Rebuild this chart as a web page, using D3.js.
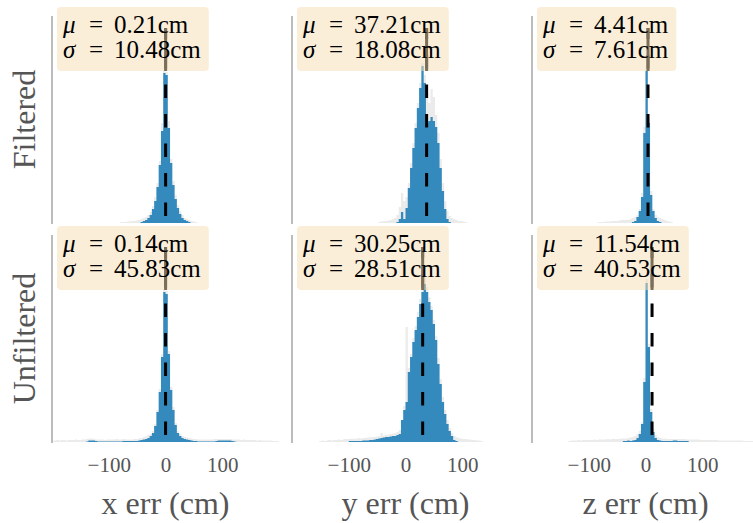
<!DOCTYPE html>
<html><head><meta charset="utf-8">
<script src="https://cdn.jsdelivr.net/npm/d3@7"></script>
<style>body{margin:0;background:#fff} text{font-family:'Liberation Serif','DejaVu Serif',serif}</style>
</head><body>
<svg id="chart" width="753" height="523"></svg>
<script>
// ---------------- data ----------------
const rowLabels = ["Filtered", "Unfiltered"];
const colLabels = ["x err (cm)", "y err (cm)", "z err (cm)"];
const xTicks = [-100, 0, 100];
const xDomain = [-200, 200];
const binWidth = 4;          // cm per histogram bin
const yMax = 207;            // relative density (arbitrary units)

const means  = [[0.21, 37.21, 4.41], [0.14, 30.25, 11.54]];
const sigmas = [[10.48, 18.08, 7.61], [45.83, 28.51, 40.53]];

// first bin centre (cm) of every histogram
const grayStarts = [[-78, -46, -82], [-198, -150, -134]];
const blueStarts = [[-42, -18, -22], [-138, -98, -38]];

// Filtered
const xFiltGray = [1,1,1,1.5,1.5,2,2,2.5,3,4,5,6,8,11,17,26,40,62,100,153,151,102,64,42,28,18,12,8,5,4,3,2,1.5,1];
const xFiltBlue = [1,2,3,5,8,14,22,36,58,92,150,148,95,60,38,24,15,9,5,3,2,1];
const yFiltGray = [1,1.5,2,2,2.5,3,4,5,8,16,30,22,26,40,60,80,100,120,140,160,148,130,120,134,126,108,90,64,40,22,12,7,5,4,3,2,2,1.5,1];
const yFiltBlue = [0,1,4,11,4,15,35,55,75,95,115,135,157,140,100,102,106,102,96,80,55,32,14,4,1];
const zFiltGray = [1,1,1,1.5,1.5,1.5,2,2,2,2.5,3,3,3,3,4,5,6,8,14,30,96,156,104,32,14,8,6,5,4,3,2,1.5,1];
const zFiltBlue = [1,2,6,12,26,90,152,100,28,12,5,2,1];

// Unfiltered
const xRawGray = [1.5,1.5,2,1.5,2,2,1.5,2,2,2,2.5,2,2,2.5,2.5,
  3,3.5,3.5,3,2.5,
  2.5,2.5,2.5,2,2.5,2.5,2.5,2.5,3,2.5,2.5,3,2.5,2.5,2.5,2.5,3,3,3.5,
  4,5,5.5,7,8,11,18,32,53,88,153,151,91,55,35,19,11,8,6,5,4.5,4,
  3.5,3,3,2.5,2.5,2.5,2.5,2.5,2.5,2.5,3,
  3,3,3,3,3,3,3,2.5,2.5,
  2.5,2.5,2,2.5,2,2,2,2,2,1.5,2,1.5,1.5,1.5,1.5,1.5,1,1,1];
const xRawBlue = [0.5,1.5,1.5,1.5,1,
  0.5,0.5,0.5,0.5,0.5,0.5,0.5,0.5,0.5,0.5,0.5,
  1,1,1,1,1,1,1,1.5,
  2,2.5,3,4,6,9,16,30,50,85,150,148,88,52,32,17,9,6,4,3,2.5,2,
  1.5,1,1,0.5,0.5,0.5,0.5,0.5,0.5,0.5,0.5,
  1,1.5,1.5,1.5,1.5,1.5,1.5,1,0.5];
const yRawGray = [1,1.5,1,1.5,2,1.5,2,2,2.5,2,2.5,3,3,
  3,3.5,3,3.5,4,3.5,4,4,4.5,4.5,
  5,5,5.5,6,9,6.5,7,7.5,8,8.5,
  9,10,12,22,36,115,74,88,104,116,
  130,143,156,164,155,145,136,122,106,84,
  63,45,32,22,14,9,6,5,4,3.5,
  3,3,2.5,2.5,2,2,1.5,1.5,1];
const yRawBlue = [1,1,1,1,1,1,1.5,1.5,1.5,2,
  2,2.5,3,3.5,4,4.5,5,5,5.5,6,
  6,7,8,22,32,40,70,85,100,112,
  125,138,150,158,150,140,132,118,102,78,
  58,40,28,18,11,6,2,1];
const zRawGray = [1,1.5,1.5,1.5,2,1.5,2,2,2,2,
  2,2.5,2,2.5,2.5,2.5,2.5,3,2.5,3,
  3,3,3,3.5,3.5,3.5,4,4.5,5,6,
  8,11,20,64,163,98,33,13,7,5,
  4,3.5,3.5,3,3,3,3,3,3,3,
  3,3,2.5,2.5,2.5,2.5,2.5,2.5,2,2,
  2,2,2,2,2,2,1.5,1.5,1.5,1.5,
  1.5,1.5,1.5,1.5,1.5,1.5,1.5,1,1,1,1,1,1,1];
const zRawBlue = [1,1,1.5,1,1.5,2,4,8,18,60,
  159,95,30,10,4,2,1.5,1,1,1,
  1,1,1.5,1.5,1,1,1,1,1];

const grayData = [[xFiltGray, yFiltGray, zFiltGray], [xRawGray, yRawGray, zRawGray]];
const blueData = [[xFiltBlue, yFiltBlue, zFiltBlue], [xRawBlue, yRawBlue, zRawBlue]];

// ---------------- layout ----------------
const colLeft = [52, 292, 532];
const rowTop = [16, 235];
const plotW = 227, plotH = 207;
const gray = "#555555";

const svg = d3.select("#chart");
const x = d3.scaleLinear().domain(xDomain).range([0, plotW]);
const y = d3.scaleLinear().domain([0, yMax]).range([plotH, 0]);

svg.append("defs").append("clipPath").attr("id", "plotclip")
  .append("rect").attr("x", 0).attr("y", -30).attr("width", plotW).attr("height", plotH + 30);

function steps(start, vals) {
  const pts = vals.map((v, i) => ({ x: start + i * binWidth - binWidth / 2, v }));
  pts.push({ x: start + vals.length * binWidth - binWidth / 2, v: vals[vals.length - 1] });
  return pts;
}
const area = d3.area().x(d => x(d.x)).y0(y(0)).y1(d => y(d.v)).curve(d3.curveStepAfter);

for (let r = 0; r < 2; r++) {
  for (let c = 0; c < 3; c++) {
    const g = svg.append("g").attr("transform", `translate(${colLeft[c]},${rowTop[r]})`);
    const pg = g.append("g").attr("clip-path", "url(#plotclip)");
    pg.append("path").attr("d", area(steps(grayStarts[r][c], grayData[r][c]))).attr("fill", "#ebebeb");
    pg.append("path").attr("d", area(steps(blueStarts[r][c], blueData[r][c]))).attr("fill", "#348ABD");

    const mx = x(means[r][c]);
    const boxBottom = 55, lineTop = 12;
    pg.append("line").attr("x1", mx).attr("x2", mx).attr("y1", y(0)).attr("y2", lineTop)
      .attr("stroke", "#000").attr("stroke-width", 3)
      .attr("stroke-dasharray", "13.5,16").attr("stroke-dashoffset", 22.5);
    pg.append("line").attr("x1", mx).attr("x2", mx).attr("y1", boxBottom).attr("y2", lineTop)
      .attr("stroke", "#000").attr("stroke-width", 3);

    // spine
    g.append("line").attr("x1", 0).attr("x2", 0).attr("y1", 0).attr("y2", plotH + 1)
      .attr("stroke", "#bcbcbc").attr("stroke-width", 2);

    // stats box (one text element, two lines)
    const x0 = 11;
    const box = g.append("rect").attr("x", x0 - 6).attr("y", -9).attr("height", 64)
      .attr("rx", 4).attr("fill", "#F5DEB3").attr("fill-opacity", 0.5);
    const t = g.append("text").attr("font-size", 25).attr("fill", "#000");
    const lines = [["μ", means[r][c]], ["σ", sigmas[r][c]]];
    let maxEnd = 0;
    lines.forEach(([sym, val], i) => {
      const by = 17 + i * 25;
      t.append("tspan").attr("x", x0).attr("y", by).attr("font-style", "italic").text(sym);
      t.append("tspan").attr("x", x0 + 26).attr("y", by).text("=");
      const v = t.append("tspan").attr("x", x0 + 51).attr("y", by).text(val.toFixed(2) + "cm");
      maxEnd = Math.max(maxEnd, x0 + 51 + v.node().getComputedTextLength());
    });
    box.attr("width", maxEnd + 8 - (x0 - 6));

    if (r === 1) {
      const ax = g.append("g").attr("transform", `translate(0,${plotH})`)
        .call(d3.axisBottom(x).tickValues(xTicks).tickSize(0).tickPadding(15));
      ax.select(".domain").remove();
      ax.selectAll("text").attr("font-family", null).attr("font-size", 21).attr("fill", gray);
      g.append("text").attr("x", plotW / 2).attr("y", 279).attr("text-anchor", "middle")
        .text(colLabels[c]).attr("font-size", 32).attr("fill", gray);
    }
  }
  svg.append("text").attr("transform", `translate(35,${rowTop[r] + plotH / 2}) rotate(-90)`)
    .attr("text-anchor", "middle").text(rowLabels[r])
    .attr("font-size", 32).attr("fill", gray);
}
</script></body></html>
